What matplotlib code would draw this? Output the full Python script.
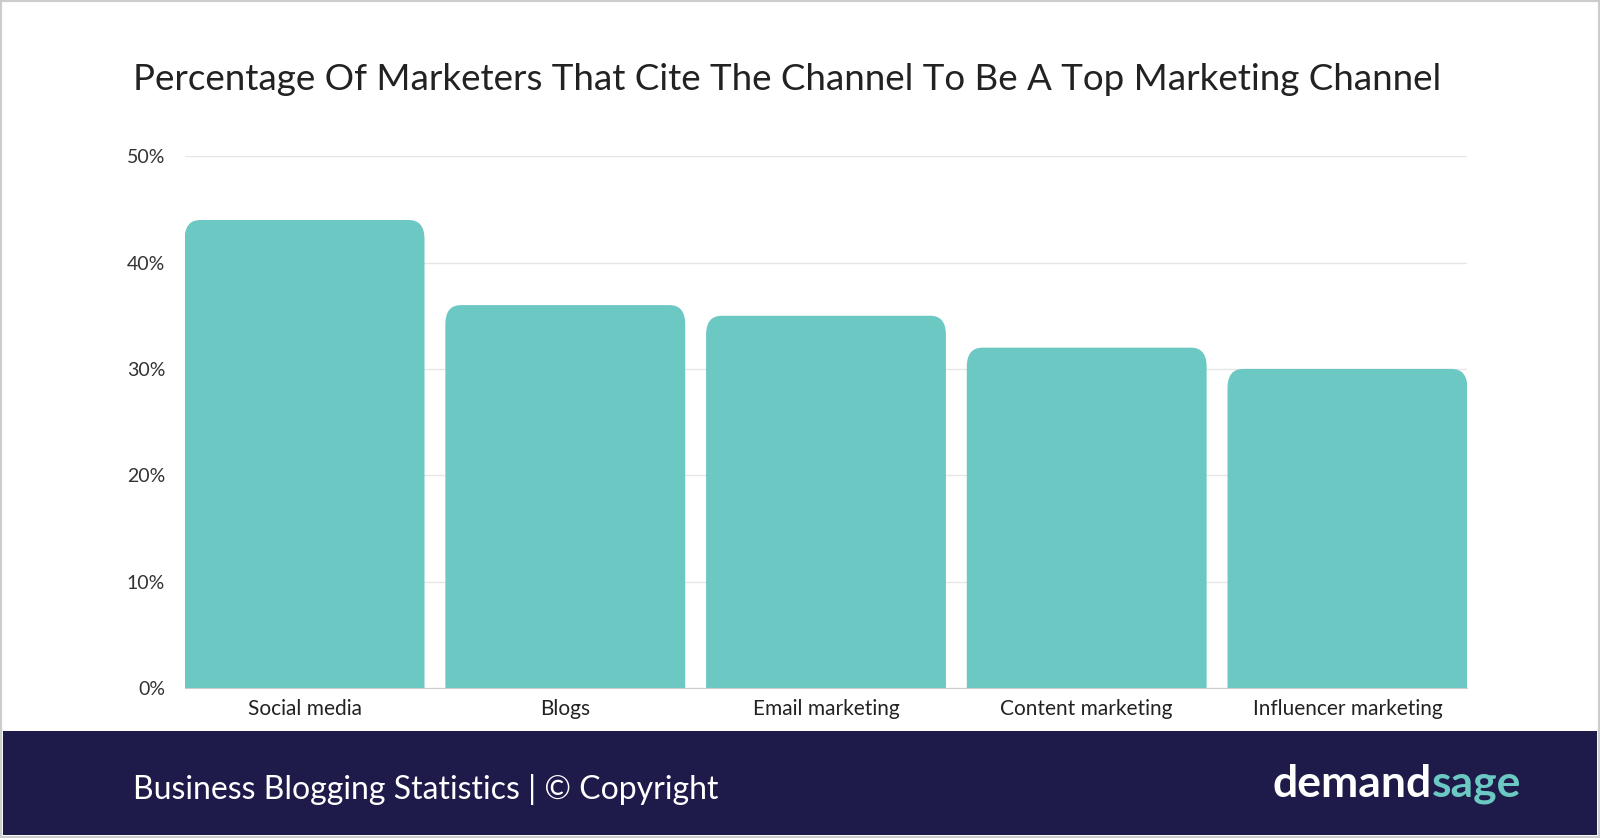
import matplotlib.pyplot as plt
from matplotlib.patches import FancyBboxPatch, Rectangle

categories = ['Social media', 'Blogs', 'Email marketing', 'Content marketing', 'Influencer marketing']
values = [44, 36, 35, 32, 30]
yticks = [0, 10, 20, 30, 40, 50]

plt.rcParams['font.family'] = ['Lato', 'DejaVu Sans']
fig = plt.figure(figsize=(16, 8.38), dpi=100)
fig.patch.set_facecolor('white')

# border and footer band
fig.add_artist(Rectangle((0, 0), 1, 1, transform=fig.transFigure, fill=False,
                         edgecolor='#cccccc', linewidth=3))
fig.add_artist(Rectangle((0.002, 0.004), 0.996, 0.124, transform=fig.transFigure,
                         facecolor='#1e1a4a', edgecolor='none'))
fig.text(0.083, 0.058, 'Business Blogging Statistics | © Copyright', color='white',
         fontsize=23, va='center')
fig.text(0.795, 0.065, 'demand', color='white', fontsize=32, va='center', fontweight='bold')
fig.text(0.895, 0.065, 'sage', color='#6cc8c3', fontsize=32, va='center', fontweight='bold')

fig.text(0.083, 0.905, 'Percentage Of Marketers That Cite The Channel To Be A Top Marketing Channel',
         fontsize=26.5, color='#222222', va='center')

ax = fig.add_axes([0.1154, 0.179, 0.8017, 0.6346])
x = range(len(categories))
bars = ax.bar(x, values, width=0.92, color='none')
ax.set_xlim(-0.46, len(categories) - 0.54)
ax.set_ylim(0, 50)
for r in bars:
    p = FancyBboxPatch((r.get_x(), -3), r.get_width(), r.get_height() + 3,
                       boxstyle='round,pad=0,rounding_size=0.06', mutation_aspect=30,
                       facecolor='#6cc8c3', edgecolor='none', clip_on=True)
    ax.add_patch(p)
    p.set_clip_path(ax.patch)

ax.set_yticks(yticks)
ax.set_yticklabels([f'{v}%' for v in yticks], fontsize=14, color='#333333')
ax.set_xticks(list(x))
ax.set_xticklabels(categories, fontsize=15, color='#222222')
ax.grid(axis='y', color='#e6e6e6', linewidth=1)
ax.set_axisbelow(True)
for s in ['top', 'right', 'left']:
    ax.spines[s].set_visible(False)
ax.spines['bottom'].set_color('#cccccc')
ax.tick_params(length=0, pad=8)
ax.tick_params(axis='y', pad=14)

fig.savefig('out.png', dpi=100)
